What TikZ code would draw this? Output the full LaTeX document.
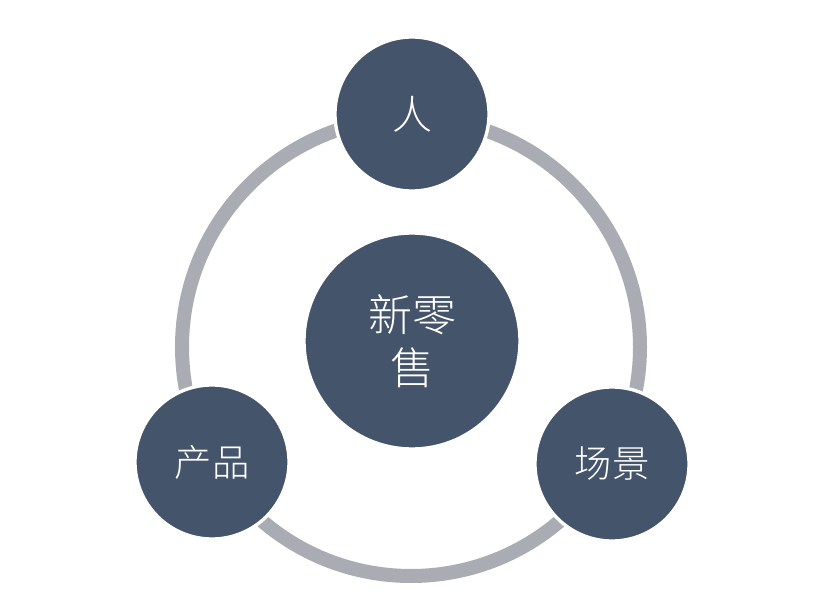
\documentclass[tikz,border=0pt]{standalone}
\usepackage{fontspec}
\newfontfamily\cjk{Noto Sans CJK SC Light}[BoldFont={Noto Sans CJK SC}]
\definecolor{navy}{HTML}{44546A}
\definecolor{ringgray}{HTML}{A9ACB3}
\begin{document}
\begin{tikzpicture}[x=0.75pt,y=-0.75pt,
  bub/.style={circle,fill=navy,draw=white,line width=2.5pt,text=white,font=\cjk,align=center,inner sep=0pt}]
\useasboundingbox (0,0) rectangle (821,613);
\fill[white] (0,0) rectangle (821,613);
\node[circle,draw=ringgray,line width=10.5pt,minimum size=458*0.75pt,inner sep=0pt] (ring) at (411,347) {};
\node[bub,minimum size=216*0.75pt,font=\cjk\fontsize{33}{40}\selectfont] (c) at (412,341) {新零\\售};
\node[bub,minimum size=154*0.75pt,font=\cjk\fontsize{30}{36}\selectfont] (t) at (412,114) {人};
\node[bub,minimum size=154*0.75pt,font=\cjk\fontsize{28}{34}\selectfont] (l) at (212,462) {产品};
\node[bub,minimum size=154*0.75pt,font=\cjk\fontsize{28}{34}\selectfont] (r) at (612,464) {场景};
\end{tikzpicture}
\end{document}
